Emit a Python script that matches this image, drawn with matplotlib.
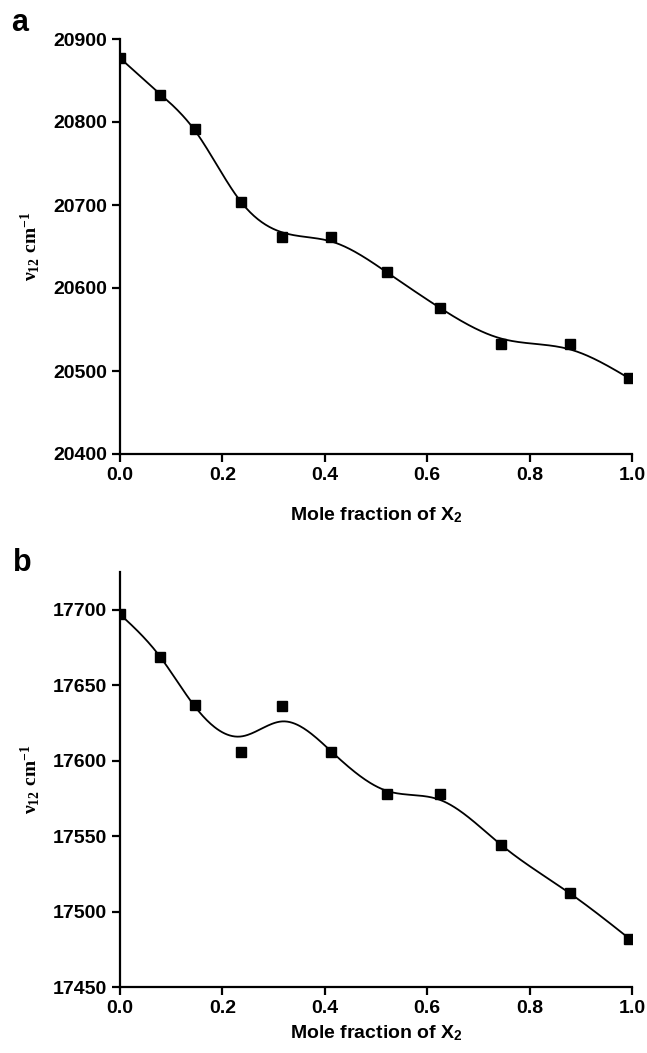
import numpy as np
import matplotlib
matplotlib.use("Agg")
import matplotlib.pyplot as plt

# mole fraction of X2 (same for both panels)
x_frac = [0.0, 0.078, 0.146, 0.236, 0.317, 0.413, 0.521, 0.625, 0.745, 0.879, 0.995]

# panel a: measured points
nu_a = [20877, 20833, 20791, 20704, 20661, 20661, 20619, 20576, 20533, 20532, 20491]
# panel a: fitted curve at the same x
fit_a = [20877, 20834, 20790, 20704, 20667, 20656, 20619, 20576, 20539, 20526, 20491]

# panel b: measured points
nu_b = [17697, 17669, 17637, 17606, 17636, 17606, 17578, 17578, 17544, 17512, 17482]
# panel b: fitted curve at the same x
fit_b = [17697, 17669, 17636, 17616, 17626, 17606, 17580, 17574, 17544, 17512, 17482]


def natural_spline(xk, yk, n=400):
    # plain natural cubic spline so the fitted line looks smooth
    xk = np.asarray(xk, float)
    yk = np.asarray(yk, float)
    m = len(xk)
    h = np.diff(xk)
    A = np.zeros((m, m))
    r = np.zeros(m)
    A[0, 0] = 1
    A[-1, -1] = 1
    for i in range(1, m - 1):
        A[i, i - 1] = h[i - 1]
        A[i, i] = 2 * (h[i - 1] + h[i])
        A[i, i + 1] = h[i]
        r[i] = 6 * ((yk[i + 1] - yk[i]) / h[i] - (yk[i] - yk[i - 1]) / h[i - 1])
    M = np.linalg.solve(A, r)
    xs = np.linspace(xk[0], xk[-1], n)
    idx = np.clip(np.searchsorted(xk, xs) - 1, 0, m - 2)
    x0 = xk[idx]
    x1 = xk[idx + 1]
    hh = x1 - x0
    t0 = x1 - xs
    t1 = xs - x0
    ys = (M[idx] * t0 ** 3 + M[idx + 1] * t1 ** 3) / (6 * hh) \
        + (yk[idx] / hh - M[idx] * hh / 6) * t0 \
        + (yk[idx + 1] / hh - M[idx + 1] * hh / 6) * t1
    return xs, ys


plt.rcParams['font.family'] = ['Liberation Sans', 'DejaVu Sans']
plt.rcParams['font.weight'] = 'bold'
plt.rcParams['mathtext.fontset'] = 'custom'
plt.rcParams['mathtext.rm'] = 'Liberation Serif'
plt.rcParams['mathtext.it'] = 'Liberation Serif'
plt.rcParams['mathtext.bf'] = 'Liberation Serif:bold'
plt.rcParams['mathtext.sf'] = 'Liberation Sans:bold'

W, H = 647, 1053
fig = plt.figure(figsize=(W / 100, H / 100), dpi=100)

ax_a = fig.add_axes([120 / W, (H - 454) / H, 512 / W, 415 / H])
ax_b = fig.add_axes([120 / W, (H - 987) / H, 512 / W, 415 / H])

panels = [
    (ax_a, nu_a, fit_a, (20400, 20900), [20400, 20500, 20600, 20700, 20800, 20900], -0.147),
    (ax_b, nu_b, fit_b, (17450, 17725), [17450, 17500, 17550, 17600, 17650, 17700], -0.111),
]

for ax, nu, fit, ylim, yt, xl_y in panels:
    xs, ys = natural_spline(x_frac, fit)
    ax.plot(xs, ys, color='black', lw=1.3)
    ax.plot(x_frac, nu, 's', color='black', ms=7.7, mec='black')
    ax.set_xlim(0, 1)
    ax.set_ylim(*ylim)
    ax.set_xticks([0.0, 0.2, 0.4, 0.6, 0.8, 1.0])
    ax.set_xticklabels(['0.0', '0.2', '0.4', '0.6', '0.8', '1.0'])
    ax.set_yticks(yt)
    ax.set_yticklabels([str(v) for v in yt])
    for s in ['top', 'right']:
        ax.spines[s].set_visible(False)
    for s in ['left', 'bottom']:
        ax.spines[s].set_linewidth(1.6)
    ax.tick_params(direction='out', length=5.5, width=1.6, labelsize=14, pad=4)
    for lab in ax.get_xticklabels() + ax.get_yticklabels():
        lab.set_fontweight('bold')
    ax.set_xlabel(r'Mole fraction of X$_\mathsf{2}$', fontsize=14, fontweight='bold')
    ax.xaxis.set_label_coords(0.5, xl_y)
    ax.xaxis.label.set_va('center')
    ax.set_ylabel(r'$\mathrm{\nu}_{\mathbf{12}}\ \mathbf{cm}^{\mathbf{-1}}$', fontsize=14)
    ax.yaxis.set_label_coords(-0.176, 0.5)
    ax.yaxis.label.set_va('center')

fig.text(20 / W, 1 - 23 / H, 'a', fontsize=22, fontweight='bold', ha='center', va='center')
fig.text(22 / W, 1 - 563 / H, 'b', fontsize=22, fontweight='bold', ha='center', va='center')

fig.savefig('out.png', dpi=100)
